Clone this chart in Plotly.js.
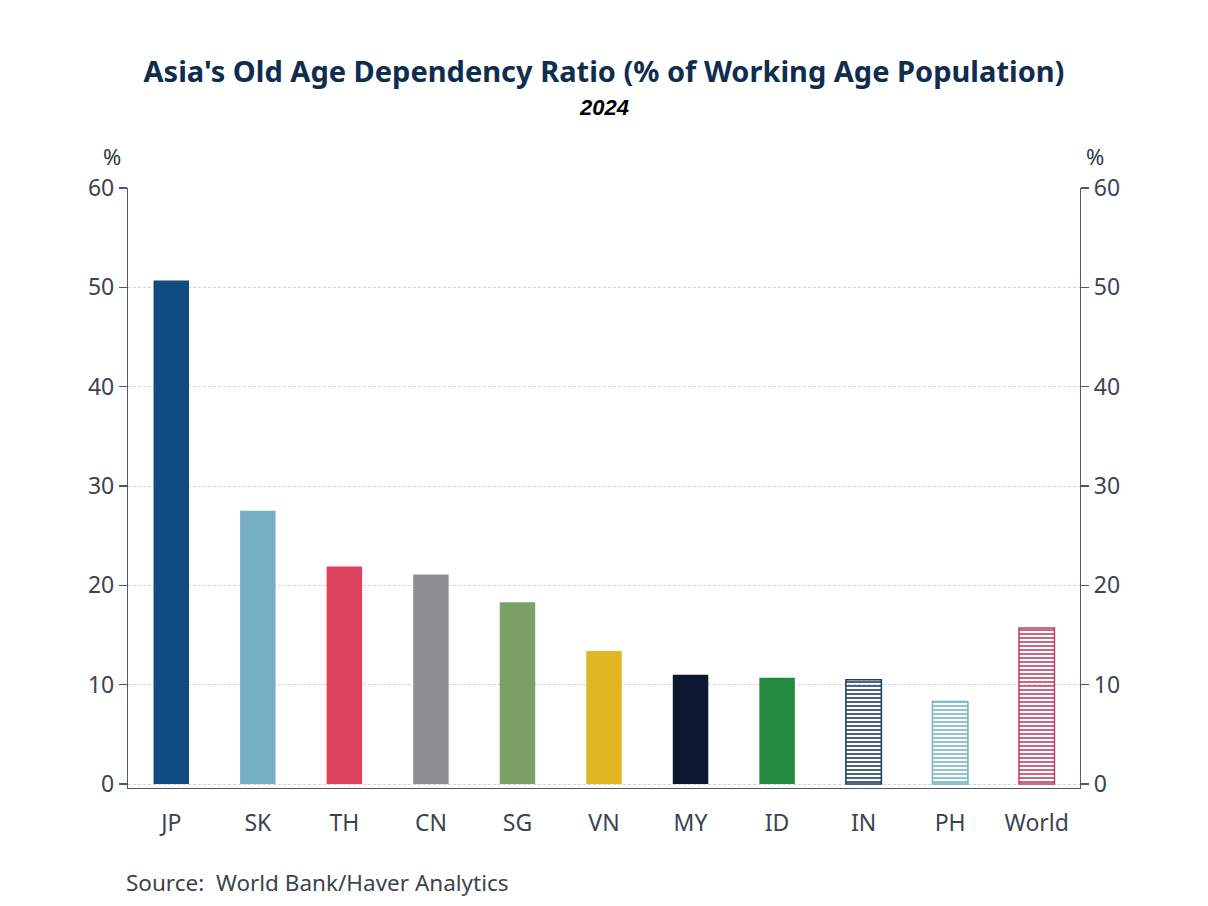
<!DOCTYPE html>
<html>
<head>
<meta charset="utf-8">
<script src="https://cdn.plot.ly/plotly-3.0.1.min.js"></script>
<style>html,body{margin:0;padding:0;background:#fff;}#chart{width:1208px;height:906px;}</style>
</head>
<body>
<div id="chart"></div>
<script>
const categories = ["JP", "SK", "TH", "CN", "SG", "VN", "MY", "ID", "IN", "PH", "World"];
const values = [50.7, 27.5, 21.9, 21.1, 18.3, 13.4, 11.0, 10.7, 10.5, 8.3, 15.7];
const barColors = ["#0f4a80", "#76afc4", "#dc425b", "#8f8e94", "#7ba066", "#e0b623", "#0b1830", "#258a41", "#1d3d58", "#7ab2bf", "#b8415f"];
const hatched = [false, false, false, false, false, false, false, false, true, true, true];
const yTicks = [0, 10, 20, 30, 40, 50, 60];

const axisColor = "#4d5966";
const tickFont = {family: "Noto Sans, Open Sans, sans-serif", size: 23, color: "#3b4450"};

const bars = {
  type: "bar",
  x: categories,
  y: values,
  width: 0.41,
  marker: {
    color: barColors,
    line: {
      color: barColors,
      width: hatched.map(h => h ? 1.5 : 0)
    },
    pattern: {
      shape: hatched.map(h => h ? "-" : ""),
      bgcolor: "#ffffff",
      size: 4,
      solidity: 0.4,
      fillmode: "replace"
    }
  },
  hoverinfo: "x+y",
  showlegend: false
};

const ghost = {
  type: "scatter",
  mode: "markers",
  x: categories,
  y: values,
  yaxis: "y2",
  marker: {opacity: 0},
  hoverinfo: "skip",
  showlegend: false
};

const layout = {
  width: 1208,
  height: 906,
  paper_bgcolor: "#ffffff",
  plot_bgcolor: "#ffffff",
  margin: {l: 128, r: 128, t: 188, b: 118},
  title: {
    text: "<b>Asia's Old Age Dependency Ratio (% of Working Age Population)</b>",
    font: {family: "Noto Sans, Open Sans, sans-serif", size: 29, color: "#0f2d4f"},
    x: 0.5, xanchor: "center", y: 0.921, yanchor: "middle"
  },
  xaxis: {
    type: "category",
    range: [-0.5, 10.5],
    showline: true, linecolor: axisColor, linewidth: 1.2,
    ticks: "", showgrid: false, zeroline: false,
    tickfont: tickFont,
    ticklabelstandoff: 14,
    fixedrange: true
  },
  yaxis: {
    range: [-0.4, 60],
    tickvals: yTicks,
    showline: true, linecolor: axisColor, linewidth: 1.2,
    ticks: "outside", ticklen: 8, tickcolor: axisColor, tickwidth: 1.2,
    showgrid: true, gridcolor: "#d4d4d4", griddash: "3px,2px", gridwidth: 1,
    zeroline: false,
    tickfont: tickFont,
    fixedrange: true
  },
  yaxis2: {
    range: [-0.4, 60],
    tickvals: yTicks,
    overlaying: "y", side: "right",
    showline: true, linecolor: axisColor, linewidth: 1.2,
    ticks: "outside", ticklen: 8, tickcolor: axisColor, tickwidth: 1.2,
    showgrid: false, zeroline: false,
    tickfont: tickFont,
    fixedrange: true
  },
  annotations: [
    {text: "<b><i>2024</i></b>", xref: "paper", yref: "paper", x: 0.5, y: 1.135, xanchor: "center", yanchor: "middle",
     showarrow: false, font: {family: "Liberation Sans, Arial, sans-serif", size: 22, color: "#000000"}},
    {text: "%", xref: "paper", yref: "paper", x: -0.017, y: 1.053, xanchor: "center", yanchor: "middle",
     showarrow: false, font: {family: "Noto Sans, Open Sans, sans-serif", size: 22, color: "#2f3843"}},
    {text: "%", xref: "paper", yref: "paper", x: 1.016, y: 1.053, xanchor: "center", yanchor: "middle",
     showarrow: false, font: {family: "Noto Sans, Open Sans, sans-serif", size: 22, color: "#2f3843"}},
    {text: "Source:  World Bank/Haver Analytics", xref: "paper", yref: "paper", x: -0.004, y: -0.158, xanchor: "left", yanchor: "middle",
     showarrow: false, font: {family: "Noto Sans, Open Sans, sans-serif", size: 22.5, color: "#3b4450"}}
  ]
};

Plotly.newPlot("chart", [bars, ghost], layout, {displayModeBar: false, staticPlot: true});
</script>
</body>
</html>
